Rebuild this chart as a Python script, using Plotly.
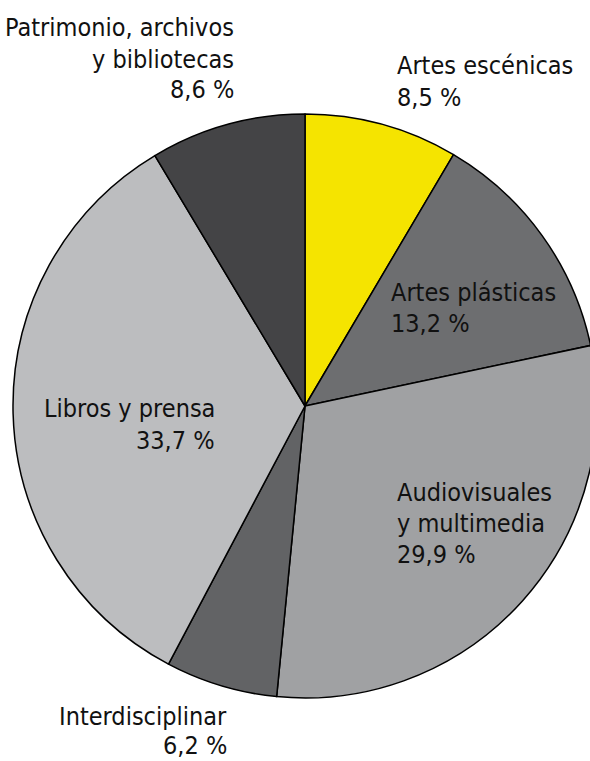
import plotly.graph_objects as go

categories = ["Artes escénicas", "Artes plásticas", "Audiovisuales y multimedia",
              "Interdisciplinar", "Libros y prensa", "Patrimonio, archivos y bibliotecas"]
values = [8.5, 13.2, 29.9, 6.2, 33.7, 8.6]
colors = ["#f5e400", "#6d6e70", "#a0a1a3", "#626365", "#bcbdbf", "#444446"]

# label lines per category
label_lines = {
    "Patrimonio, archivos y bibliotecas": ["Patrimonio, archivos", "y bibliotecas", "8,6 %"],
    "Artes escénicas": ["Artes escénicas", "8,5 %"],
    "Artes plásticas": ["Artes plásticas", "13,2 %"],
    "Audiovisuales y multimedia": ["Audiovisuales", "y multimedia", "29,9 %"],
    "Libros y prensa": ["Libros y prensa", "33,7 %"],
    "Interdisciplinar": ["Interdisciplinar", "6,2 %"],
}
# (anchor x px, first line y px, align, line height)
label_pos = {
    "Patrimonio, archivos y bibliotecas": (236, 28, "right", 31),
    "Artes escénicas": (395, 66, "left", 31),
    "Artes plásticas": (389, 292, "left", 31),
    "Audiovisuales y multimedia": (395, 492, "left", 31),
    "Libros y prensa": (217, 409, "right", 31),
    "Interdisciplinar": (229, 716, "right", 29),
}

W, H = 606, 761
FONT = "Liberation Sans Narrow, DejaVu Sans Condensed, Arial Narrow, sans-serif"

fig = go.Figure(go.Pie(
    labels=categories, values=values, sort=False, direction="clockwise",
    rotation=0, textinfo="none", hoverinfo="label+percent",
    marker=dict(colors=colors, line=dict(color="#000000", width=1.5)),
    domain=dict(x=[13 / W, 597 / W], y=[1 - 698 / H, 1 - 114 / H]),
    showlegend=False,
))

annotations = []
for cat in categories:
    x, y0, align, lh = label_pos[cat]
    for i, line in enumerate(label_lines[cat]):
        annotations.append(dict(
            text=line, x=x / W, y=1 - (y0 + i * lh) / H, xref="paper", yref="paper",
            xanchor="right" if align == "right" else "left", yanchor="middle",
            showarrow=False, font=dict(family=FONT, size=25, color="#111111"),
        ))

fig.update_layout(
    width=W, height=H, margin=dict(l=0, r=0, t=0, b=0),
    paper_bgcolor="white", plot_bgcolor="white",
    annotations=annotations,
)
fig.write_html("out.html", config={"displayModeBar": False},
               post_script="document.body.style.margin='0';document.body.style.overflow='hidden';")
